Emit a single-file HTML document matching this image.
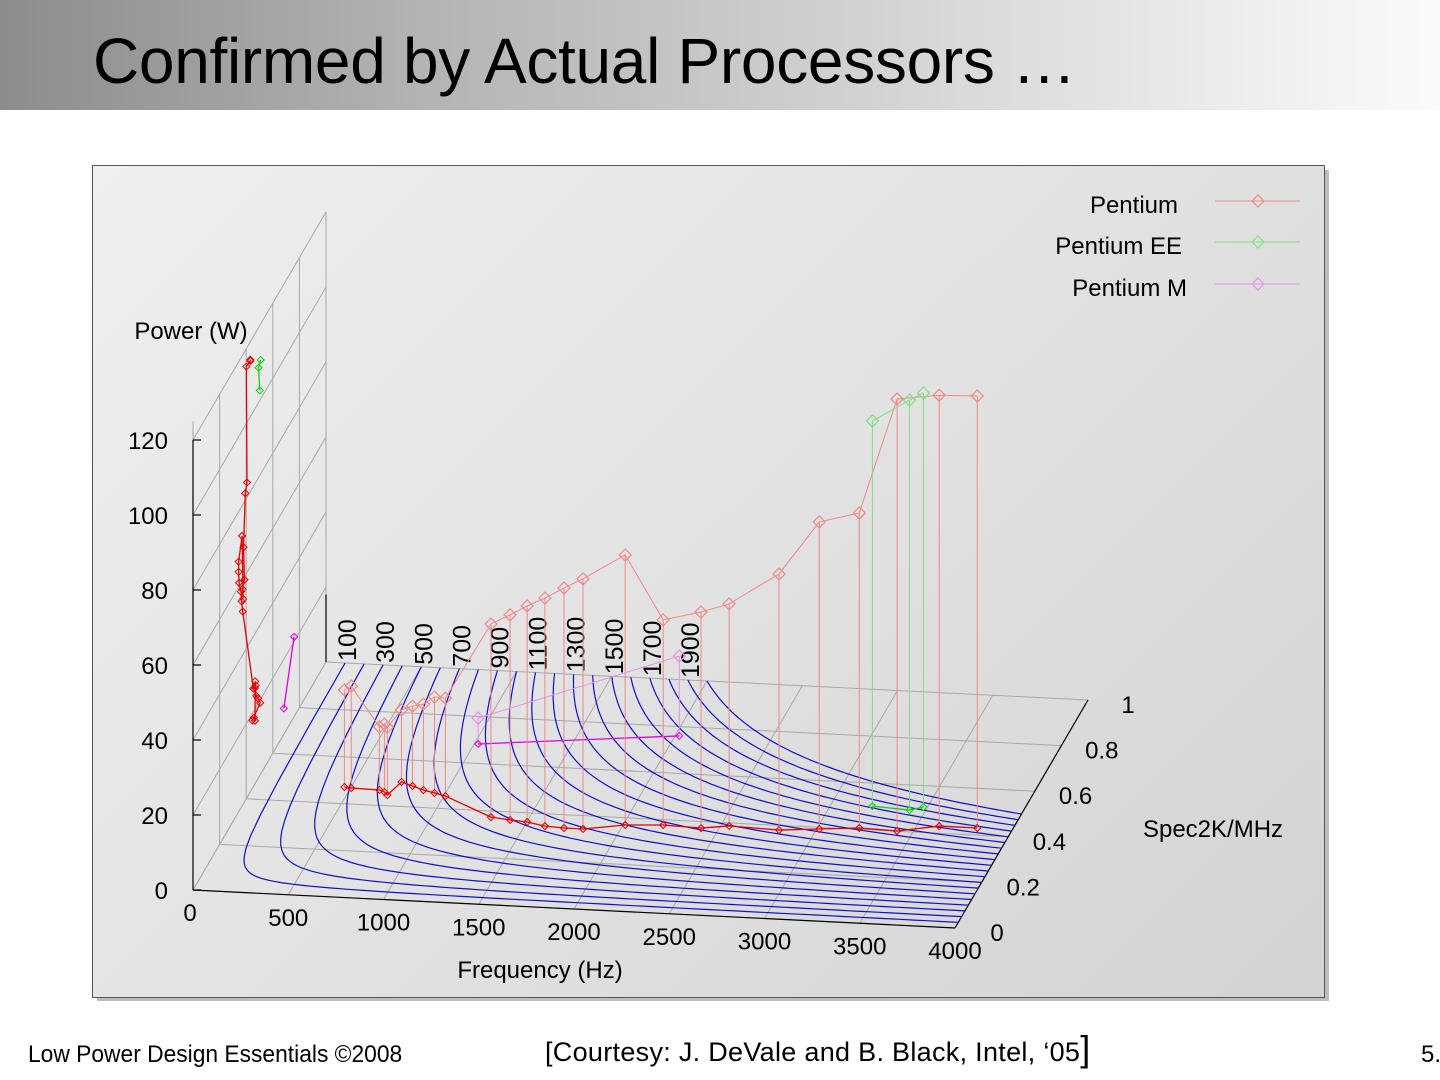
<!DOCTYPE html>
<html><head><meta charset="utf-8">
<style>
html,body{margin:0;padding:0;width:1440px;height:1080px;overflow:hidden;background:#fff;font-family:"Liberation Sans",sans-serif;}
#header{position:absolute;left:0;top:0;width:1440px;height:110px;background:linear-gradient(90deg,#8c8c8c 0%,#b4b4b4 30%,#d2d2d2 60%,#ececec 85%,#fafafa 100%);}
#title{position:absolute;left:93px;top:24px;font-size:64px;color:#000;white-space:nowrap;letter-spacing:-0.3px;}
#panel-shadow{position:absolute;left:97px;top:170px;width:1232px;height:831px;background:#bdbdbd;}
#panel{position:absolute;left:92px;top:165px;width:1231px;height:831px;border:1px solid #555;background:linear-gradient(135deg,#efefef 0%,#e2e2e2 50%,#d3d3d3 100%);}
svg{position:absolute;left:0;top:0;}
.foot{position:absolute;top:1040px;font-size:24px;color:#000;white-space:nowrap;}
</style></head>
<body>
<div id="header"></div>
<div id="title">Confirmed by Actual Processors …</div>
<div id="panel-shadow"></div>
<div id="panel"></div>
<svg id="chart" width="1440" height="1080"></svg>
<div class="foot" style="left:28px;top:1041px;font-size:24px;transform:scaleX(0.95);transform-origin:left top;">Low Power Design Essentials ©2008</div>
<div class="foot" style="left:545px;top:1037px;font-size:27px;letter-spacing:0.3px;">[Courtesy: J. DeVale and B. Black, Intel, ‘05<span style="font-size:36px;line-height:0">]</span></div>
<div class="foot" style="left:1421px;top:1041px;font-size:24px;">5.</div>
<script>
// ---- data ----
const freqTicks = [0,500,1000,1500,2000,2500,3000,3500,4000];
const specTicks = [0,0.2,0.4,0.6,0.8,1];
const powerTicks = [0,20,40,60,80,100,120];
const contourLevels = [100,200,300,400,500,600,700,800,900,1000,1100,1200,1300,1400,1500,1600,1700,1800,1900,2000];
const contourLabels = [100,300,500,700,900,1100,1300,1500,1700,1900];
const pentiumFreq  = [466,504,653,685,709,742,810,878,943,1008,1303,1409,1502,1605,1708,1808,2011,2205,2407,2544,2811,3013,3214,3416,3616,3816];
const pentiumSpec  = [0.471,0.468,0.466,0.458,0.446,0.505,0.49,0.475,0.465,0.454,0.374,0.366,0.361,0.347,0.343,0.343,0.369,0.377,0.372,0.387,0.38,0.393,0.406,0.401,0.431,0.431];
const pentiumPower = [25.9,27.2,16.8,18.1,18.1,19.2,21.3,22.9,25.6,26.1,51.5,54.7,57.6,60.8,64,66.7,72,54.7,57.6,59.2,68.3,81.9,84,115.2,114.9,115.2];
const eeFreq  = [3216,3417,3479];
const eeSpec  = [0.502,0.493,0.509];
const eePower = [102.7,109.3,110.4];
const mFreq  = [1020,2022];
const mSpec  = [0.683,0.76];
const mPower = [6.9,21.3];

// ---- projection ----
function P(f,s,p){ return [193 + 0.1905*f + 133*s, 890 + 0.0095*f - 228*s - 3.75*p]; }
const svg = document.getElementById('chart');
const NS='http://www.w3.org/2000/svg';
function mk(tag,attrs,parent){ const e=document.createElementNS(NS,tag); for(const k in attrs) e.setAttribute(k,attrs[k]); (parent||svg).appendChild(e); return e; }
function line(a,b,stroke,w,name){ const e=mk('line',{x1:a[0],y1:a[1],x2:b[0],y2:b[1],stroke:stroke,'stroke-width':w});
  
  
  return e; }
function text(x,y,str,size,anchor,name,extra){ const e=mk('text',Object.assign({x:x,y:y,'font-size':size,'text-anchor':anchor||'middle',fill:'#000','font-family':'Liberation Sans, sans-serif'},extra||{})); e.textContent=str;
  
  
  return e; }
const grid='#a8a8a8';
const WALLTOP=120;
// wall grid (f=0)
specTicks.forEach(s=>{ line(P(0,s,0),P(0,s,WALLTOP+(s===0?5:0)),grid,1,'wall-grid-vertical'); });
powerTicks.forEach(p=>{ line(P(0,0,p),P(0,1,p),grid,1,'wall-grid-slant'); });
// base grid
freqTicks.forEach(f=>{ line(P(f,0,0),P(f,1,0),grid,1,'base-grid-freq'); });
specTicks.forEach(s=>{ line(P(0,s,0),P(4000,s,0),grid,1,'base-grid-spec'); });
// axes
line(P(0,0,0),P(4000,0,0),'#000',1.2,'freq-axis');
line(P(4000,0,0),P(4000,1,0),'#000',1.2,'spec-axis');
line(P(0,0,0),P(0,0,120),'#000',1.2,'power-axis');
line(P(0,1,0),P(0,1,18),'#000',1.2,'back-corner-axis');
powerTicks.forEach(p=>{ const a=P(0,0,p); line(a,[a[0]+8,a[1]],'#000',1.2,'power-tick');
  text(168,a[1]+9,String(p),24,'end','power-tick-label'); });
freqTicks.forEach(f=>{ const a=P(f,0,0); text(a[0]+(f===0?-3:0),a[1]+31,String(f),24,'middle','freq-tick-label'); });
specTicks.forEach(s=>{ const a=P(4000,s,0); text(a[0]+42-s*2,a[1]+13,String(s),24,'middle','spec-tick-label'); });
text(191,339,'Power (W)',24,'middle','z-axis-title');
text(1213,837,'Spec2K/MHz',24,'middle','spec-axis-title');
text(540,978,'Frequency (Hz)',24,'middle','x-axis-title');

// contours
contourLevels.forEach(K=>{
  const alpha = 0.93 - 0.5*(K/2000);
  const r=K/4000, A=K*(1-alpha), B=(4000-alpha*K)*r;
  const beta=(B-A)/(B-A*r);
  const a=alpha*K, b=beta*r, c=(K-a)*(1-b);
  let d='';
  for(let i=0;i<=80;i++){ const f=K+(4000-K)*Math.pow(i/80,1.6); const s=Math.min(1,b+c/(f-a)); const q=P(f,s,0); d+=(i?'L':'M')+q[0].toFixed(1)+' '+q[1].toFixed(1); }
  const e=mk('path',{d:d,fill:'none',stroke:'#1010c8','stroke-width':1.2});
  
  
});
contourLabels.forEach(K=>{ const q=P(K,1,0); text(0,0,String(K),25,'start','contour-label',{transform:'translate('+(q[0]+11)+','+(q[1]-2)+') rotate(-90)'}); });

function diamond(pt,r,color,w,name){ const d='M'+pt[0]+' '+(pt[1]-r)+'L'+(pt[0]+r)+' '+pt[1]+'L'+pt[0]+' '+(pt[1]+r)+'L'+(pt[0]-r)+' '+pt[1]+'Z';
  const e=mk('path',{d:d,fill:'none',stroke:color,'stroke-width':w});
  
   }
function series(F,S,Pw,dark,light,key){
  const base=F.map((f,i)=>P(f,S[i],0)), top=F.map((f,i)=>P(f,S[i],Pw[i])), wall=F.map((f,i)=>P(0,S[i],Pw[i]));
  F.forEach((f,i)=>line(base[i],top[i],light,1,key+'-drop-line'));
  const pl=(pts,col,w,name)=>{ const e=mk('polyline',{points:pts.map(p=>p.join(',')).join(' '),fill:'none',stroke:col,'stroke-width':w});
    
     };
  pl(base,dark,1.3,key+'-base-line'); base.forEach(p=>diamond(p,3.5,dark,1,key+'-base-marker'));
  pl(top,light,1,key+'-top-line'); top.forEach(p=>diamond(p,6,light,1.2,key+'-marker'));
  pl(wall,dark,1.3,key+'-wall-line'); wall.forEach(p=>diamond(p,3.5,dark,1,key+'-wall-marker'));
}
series(mFreq,mSpec,mPower,'#e000e0','#e890e8','pentium-m');
series(pentiumFreq,pentiumSpec,pentiumPower,'#e00000','#f08888','pentium');
series(eeFreq,eeSpec,eePower,'#10d010','#80e080','pentium-ee');

// legend
[['Pentium',205,1178,'#f08888'],['Pentium EE',246,1182,'#80e080'],['Pentium M',288,1187,'#e890e8']].forEach(l=>{
  text(l[2],l[1]+8,l[0],24,'end','legend-label');
  line([1215,l[1]-4],[1300,l[1]-4],l[3],1,'legend-line');
  diamond([1258,l[1]-4],6,l[3],1.2,'legend-marker');
});
</script>
</body></html>
